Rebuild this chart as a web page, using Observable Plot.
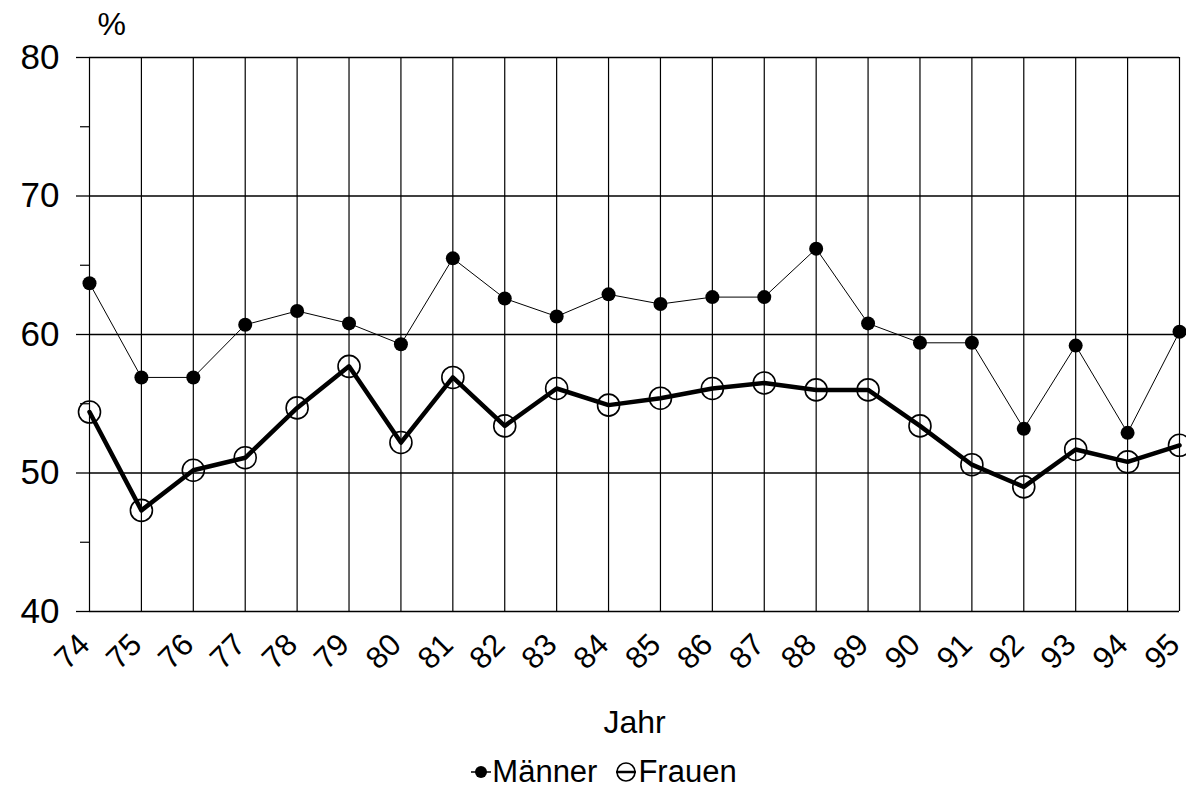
<!DOCTYPE html>
<html><head><meta charset="utf-8">
<script src="https://cdn.jsdelivr.net/npm/d3@7"></script>
<script src="https://cdn.jsdelivr.net/npm/@observablehq/plot@0.6"></script>
<style>
body{margin:0;background:#fff;font-family:"Liberation Sans",Arial,sans-serif;}
#wrap{position:relative;width:1186px;height:804px;overflow:hidden;}
#legend{position:absolute;top:752px;left:0;width:1186px;height:40px;display:flex;justify-content:center;align-items:center;font-size:31px;color:#000;padding-left:22px;box-sizing:border-box;}
#legend span.item{display:inline-flex;align-items:center;margin:0 9px;}
#legend svg{margin-right:1px;}
</style>
</head><body>
<div id="wrap"><div id="chart"></div><div id="legend"></div></div>
<script>
const years = [74,75,76,77,78,79,80,81,82,83,84,85,86,87,88,89,90,91,92,93,94,95];
const maenner = [63.7,56.9,56.9,60.7,61.7,60.8,59.3,65.5,62.6,61.3,62.9,62.2,62.7,62.7,66.2,60.8,59.4,59.4,53.2,59.2,52.9,60.2];
const frauen = [54.4,47.3,50.2,51.1,54.7,57.7,52.2,56.9,53.4,56.1,54.9,55.4,56.1,56.5,56.0,56.0,53.4,50.6,49.0,51.7,50.8,52.0];
const yTicks = [40,50,60,70,80];
const yMinor = [45,55,65,75];
const seriesNames = ["Männer","Frauen"];
const yUnit = "%";
const xTitle = "Jahr";

const data = years.map((y,i)=>({year:y, m:maenner[i], f:frauen[i]}));

const chart = Plot.plot({
  width:1186, height:752,
  marginLeft:89, marginRight:7, marginTop:57, marginBottom:141,
  x:{domain:[74,95]},
  y:{domain:[40,80]},
  style:{fontFamily:'"Liberation Sans",Arial,sans-serif', color:"#000", background:"#fff", overflow:"visible"},
  marks:[
    Plot.ruleY(yTicks,{stroke:"#000",strokeWidth:1.3}),
    Plot.ruleX(years,{y1:40,y2:80,stroke:"#000",strokeWidth:1.2}),
    Plot.axisY({ticks:yTicks,tickSize:13,tickPadding:17,fontSize:35,label:null,tickFormat:d=>String(d),strokeWidth:1.3}),
    Plot.axisY({ticks:yMinor,tickSize:9,tickFormat:()=>"",label:null,strokeWidth:1.2}),
    Plot.axisX({ticks:years,tickSize:0,tickRotate:-45,tickPadding:28,dx:-5,fontSize:31,label:null,tickFormat:d=>String(d)}),
    Plot.line(data,{x:"year",y:"m",stroke:"#000",strokeWidth:1}),
    Plot.dot(data,{x:"year",y:"m",r:7,fill:"#000",stroke:"none"}),
    Plot.line(data,{x:"year",y:"f",stroke:"#000",strokeWidth:4.5}),
    Plot.dot(data,{x:"year",y:"f",r:11,fill:"none",stroke:"#000",strokeWidth:1.6}),
    Plot.text([yUnit],{text:d=>d,frameAnchor:"top-left",textAnchor:"start",lineAnchor:"top",dx:8,dy:-45,fontSize:32}),
    Plot.text([xTitle],{text:d=>d,frameAnchor:"bottom",lineAnchor:"middle",dy:111,fontSize:32})
  ]
});
document.getElementById("chart").appendChild(chart);

const legend = document.getElementById("legend");
legend.innerHTML =
  `<span class="item"><svg width="20" height="20" viewBox="0 0 20 20"><line x1="0" y1="10" x2="20" y2="10" stroke="#000" stroke-width="1.5"/><circle cx="10" cy="10" r="6" fill="#000"/></svg>${seriesNames[0]}</span>` +
  `<span class="item"><svg width="22" height="22" viewBox="0 0 22 22"><line x1="1" y1="11" x2="21" y2="11" stroke="#000" stroke-width="2.5"/><circle cx="11" cy="11" r="9" fill="none" stroke="#000" stroke-width="1.6"/></svg>${seriesNames[1]}</span>`;
</script>
</body></html>
